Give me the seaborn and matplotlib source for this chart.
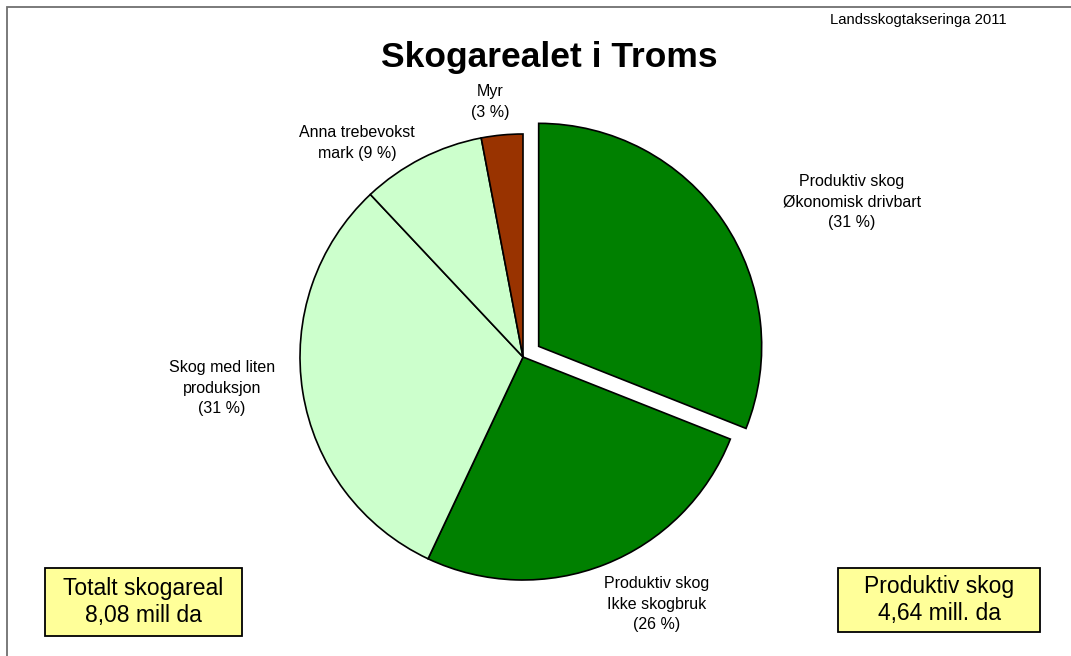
import matplotlib
matplotlib.use("Agg")
import matplotlib.pyplot as plt
from matplotlib.patches import Rectangle
import seaborn as sns

# ---- data ----
categories = ["Produktiv skog\nØkonomisk drivbart", "Produktiv skog\nIkke skogbruk",
              "Skog med liten\nproduksjon", "Anna trebevokst\nmark", "Myr"]
shares = [31, 26, 31, 9, 3]
label_texts = ["Produktiv skog\nØkonomisk drivbart\n(31 %)", "Produktiv skog\nIkke skogbruk\n(26 %)",
               "Skog med liten\nproduksjon\n(31 %)", "Anna trebevokst\nmark (9 %)", "Myr\n(3 %)"]
colors = ["#008000", "#008000", "#CCFFCC", "#CCFFCC", "#993300"]
explode = [0.085, 0, 0, 0, 0]
title = "Skogarealet i Troms"
source = "Landsskogtakseringa 2011"
box_left = "Totalt skogareal\n8,08 mill da"
box_right = "Produktiv skog\n4,64 mill. da"

sns.set_theme(style="white")
plt.rcParams["font.family"] = ["Liberation Sans", "DejaVu Sans"]

W, H = 1071, 656
fig = plt.figure(figsize=(W / 100, H / 100), dpi=100)
fig.patch.set_facecolor("white")

def fx(px):
    return px / W

def fy(py):
    return 1 - py / H

# outer frame (top and left visible)
fig.patches.append(Rectangle((fx(7), -0.2), 1.5, fy(7) + 0.2, transform=fig.transFigure,
                             fill=False, edgecolor="#707070", linewidth=1.3))

# pie axes: center (523,357) radius ~223 px
cx, cy, r = 523, 357, 223
ax = fig.add_axes([fx(cx - r), fy(cy + r), (2 * r) / W, (2 * r) / H])
ax.pie(shares, colors=colors, explode=explode, startangle=90, counterclock=False,
       wedgeprops=dict(edgecolor="black", linewidth=1.2), radius=1.0)
ax.set_xlim(-1, 1)
ax.set_ylim(-1, 1)
ax.set_aspect("equal")
ax.axis("off")

# slice labels
label_pos = [(852, 202), (657, 604), (222, 388), (357, 143), (490, 102)]
for txt, (px, py) in zip(label_texts, label_pos):
    fig.text(fx(px), fy(py), txt, ha="center", va="center", fontsize=11.5,
             linespacing=1.45, color="black")

fig.text(fx(549), fy(58), title, ha="center", va="center", fontsize=25.5,
         fontweight="bold", color="black")
fig.text(fx(918), fy(20), source, ha="center", va="center", fontsize=10.7, color="black")

# yellow boxes
for (x0, y0, x1, y1), txt in [((45, 568, 242, 636), box_left), ((838, 568, 1040, 632), box_right)]:
    fig.patches.append(Rectangle((fx(x0), fy(y1)), fx(x1) - fx(x0), fy(y0) - fy(y1),
                                 transform=fig.transFigure, facecolor="#FFFF99",
                                 edgecolor="black", linewidth=1.3))
    fig.text(fx((x0 + x1) / 2), fy((y0 + y1) / 2), txt, ha="center", va="center",
             fontsize=16.5, linespacing=1.2, color="black")

fig.savefig("out.png", dpi=100)
